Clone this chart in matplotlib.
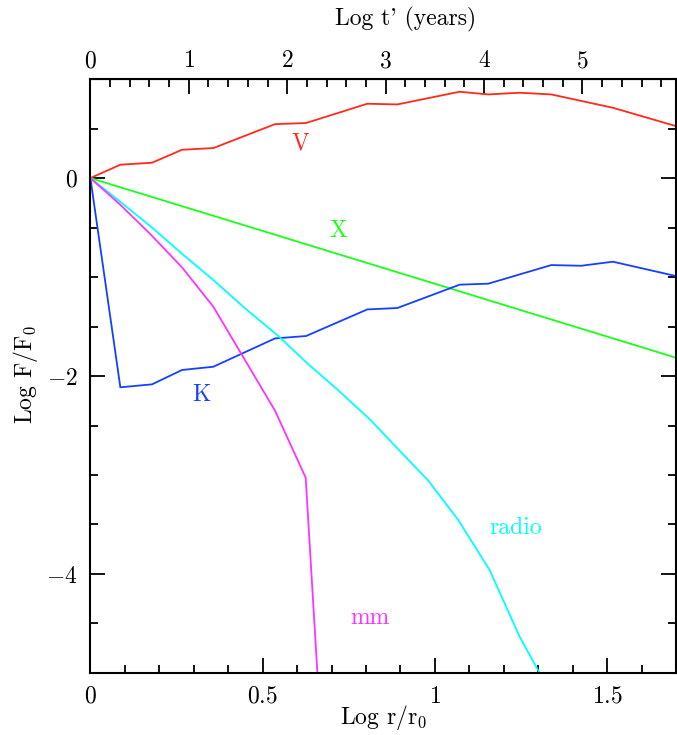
import matplotlib
matplotlib.use("Agg")
import matplotlib.pyplot as plt
from matplotlib.ticker import MultipleLocator, FixedLocator

plt.rcParams['mathtext.fontset'] = 'cm'
plt.rcParams['font.family'] = ['cmr10', 'DejaVu Serif']
plt.rcParams['axes.unicode_minus'] = False

# Data (Log r/r0 vs Log F/F0)
v_x = [0, 0.087, 0.179, 0.266, 0.357, 0.536, 0.626, 0.804, 0.891, 1.072, 1.155, 1.246, 1.338, 1.517, 1.70]
v_y = [0, 0.135, 0.155, 0.286, 0.303, 0.545, 0.556, 0.751, 0.744, 0.872, 0.845, 0.862, 0.845, 0.710, 0.525]

k_x = [0, 0.087, 0.179, 0.266, 0.357, 0.536, 0.626, 0.804, 0.891, 1.072, 1.155, 1.338, 1.425, 1.517, 1.70]
k_y = [0, -2.114, -2.084, -1.939, -1.906, -1.620, -1.596, -1.327, -1.313, -1.077, -1.067, -0.879, -0.886, -0.845, -0.99]

x_x = [0, 1.70]
x_y = [0, -1.815]

mm_x = [0, 0.087, 0.174, 0.266, 0.357, 0.536, 0.625, 0.659]
mm_y = [0, -0.27, -0.566, -0.902, -1.30, -2.35, -3.027, -5.0]

radio_x = [0, 0.087, 0.179, 0.266, 0.357, 0.447, 0.548, 0.626, 0.715, 0.812, 0.891, 0.981, 1.068, 1.159, 1.246, 1.304]
radio_y = [0, -0.24, -0.50, -0.765, -1.03, -1.31, -1.603, -1.86, -2.13, -2.44, -2.73, -3.057, -3.455, -3.96, -4.633, -5.0]

series = [
    (v_x, v_y, '#ff2a1a', 'V', 0.609, 0.354),
    (x_x, x_y, '#1aff1a', 'X', 0.719, -0.535),
    (k_x, k_y, '#1440ff', 'K', 0.322, -2.19),
    (radio_x, radio_y, '#00ffff', 'radio', 1.235, -3.535),
    (mm_x, mm_y, '#ff33ff', 'mm', 0.812, -4.44),
]

FS = 17

fig = plt.figure(figsize=(6.77, 7.35), dpi=100)
ax = fig.add_axes([0.1335, 0.0844, 0.865, 0.808])

for xs, ys, c, lab, lx, ly in series:
    ax.plot(xs, ys, color=c, lw=1.3, clip_on=True)
    ax.text(lx, ly, lab, color=c, fontsize=FS, ha='center', va='center')

ax.set_xlim(0, 1.7)
ax.set_ylim(-5, 1)

ax.xaxis.set_major_locator(FixedLocator([0, 0.5, 1, 1.5]))
ax.xaxis.set_minor_locator(MultipleLocator(0.1))
ax.yaxis.set_major_locator(FixedLocator([0, -2, -4]))
ax.yaxis.set_minor_locator(MultipleLocator(0.5))
ax.set_xticklabels(['$0$', '$0.5$', '$1$', '$1.5$'])
ax.set_yticklabels(['$0$', '$-2$', '$-4$'])

ax.tick_params(which='both', direction='in', top=False, right=True, labelsize=FS, width=1.3)
ax.tick_params(which='major', length=11, pad=9)
ax.tick_params(which='minor', length=5.5)
for s in ax.spines.values():
    s.set_linewidth(1.5)

sec = ax.secondary_xaxis('top', functions=(lambda r: 3.5 * r, lambda t: t / 3.5))
sec.xaxis.set_major_locator(FixedLocator([0, 1, 2, 3, 4, 5]))
sec.xaxis.set_minor_locator(MultipleLocator(0.2))
sec.set_xticklabels(['$0$', '$1$', '$2$', '$3$', '$4$', '$5$'])
sec.tick_params(which='both', direction='in', labelsize=FS, width=1.3)
sec.tick_params(which='major', length=11, pad=5)
sec.tick_params(which='minor', length=5.5)

# axis titles placed in figure pixels
W, H = 677, 735
fig.text(384 / W, 1 - 718 / H, r'Log r/r$_\mathbf{0}$', fontsize=FS, ha='center', va='center')
fig.text(25 / W, 1 - 374 / H, r'Log F/F$_\mathbf{0}$', fontsize=FS, ha='center', va='center', rotation=90)
fig.text(406 / W, 1 - 19 / H, "Log t' (years)", fontsize=FS, ha='center', va='center')

fig.savefig('out.png', dpi=100)
